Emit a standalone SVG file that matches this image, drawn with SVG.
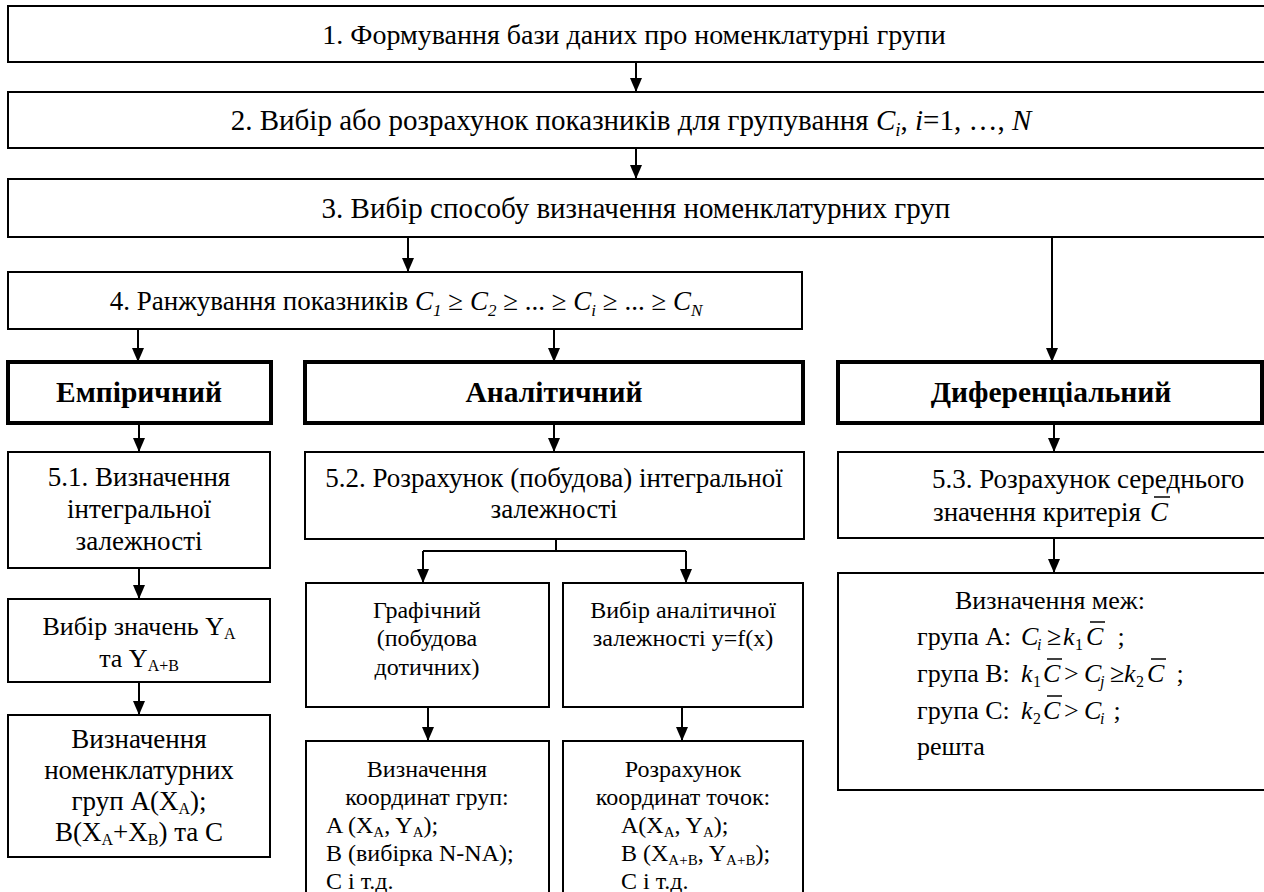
<svg xmlns="http://www.w3.org/2000/svg" width="1264" height="892" viewBox="0 0 1264 892">
<defs>
<style>
.box{fill:#fff;stroke:#000;stroke-width:2}
.bbox{fill:#fff;stroke:#000;stroke-width:4}
text{font-family:"Liberation Serif","Times New Roman",serif;fill:#000}
.f29{font-size:29px}
.f28{font-size:28px}
.f27{font-size:27px}
.f26{font-size:26px}
.f24{font-size:24px}
.b{font-weight:bold;font-size:29.5px}
.it{font-style:italic}
.c{text-anchor:middle}
#connectors line,#connectors path{stroke:#000;stroke-width:2;fill:none}
.ar{marker-end:url(#ah)}
.ov{stroke:#000;stroke-width:1.5}
</style>
<marker id="ah" viewBox="0 0 14 12" refX="14" refY="6" markerWidth="14" markerHeight="12" markerUnits="userSpaceOnUse" orient="auto"><path d="M0,0 L14,6 L0,12 z" fill="#000"/></marker>
</defs>
<rect width="1264" height="892" fill="#fff"/>

<g id="connectors">
<line class="ar" x1="636" y1="62" x2="636" y2="92"/>
<line class="ar" x1="636" y1="148" x2="636" y2="179"/>
<line class="ar" x1="408" y1="237" x2="408" y2="272"/>
<line class="ar" x1="1052" y1="237" x2="1052" y2="362"/>
<line class="ar" x1="138" y1="329" x2="138" y2="362"/>
<line class="ar" x1="554" y1="329" x2="554" y2="362"/>
<line class="ar" x1="139" y1="423" x2="139" y2="452"/>
<line class="ar" x1="554" y1="424" x2="554" y2="452"/>
<line class="ar" x1="1054" y1="423" x2="1054" y2="452"/>
<line class="ar" x1="139" y1="568" x2="139" y2="599"/>
<line class="ar" x1="139" y1="682" x2="139" y2="715"/>
<path d="M556,539 V551 M423,551 H686"/>
<line class="ar" x1="423" y1="551" x2="423" y2="583"/>
<line class="ar" x1="686" y1="551" x2="686" y2="583"/>
<line class="ar" x1="1054" y1="538" x2="1054" y2="573"/>
<line class="ar" x1="428" y1="707" x2="428" y2="741"/>
<line class="ar" x1="682" y1="707" x2="682" y2="741"/>
</g>

<g id="n1">
<rect class="box" x="8" y="6" width="1270" height="56"/>
<text class="f28 c" x="634" y="44">1. Формування бази даних про номенклатурні групи</text>
</g>
<g id="n2">
<rect class="box" x="8" y="92" width="1270" height="56"/>
<text class="f29 c" x="631" y="130">2. Вибір або розрахунок показників для групування <tspan class="it">C</tspan><tspan class="it" font-size="19" dy="6">i</tspan><tspan dy="-6">, </tspan><tspan class="it">i</tspan>=1, …, <tspan class="it">N</tspan></text>
</g>
<g id="n3">
<rect class="box" x="8" y="179" width="1270" height="58"/>
<text class="f29 c" x="636" y="218">3. Вибір способу визначення номенклатурних груп</text>
</g>
<g id="n4">
<rect class="box" x="8" y="272" width="794" height="57"/>
<text class="f27 c" x="406" y="310">4. Ранжування показників <tspan class="it">C</tspan><tspan class="it" font-size="17" dy="6">1</tspan><tspan dy="-6"> ≥ </tspan><tspan class="it">C</tspan><tspan class="it" font-size="17" dy="6">2</tspan><tspan dy="-6"> ≥ ... ≥ </tspan><tspan class="it">C</tspan><tspan class="it" font-size="17" dy="6">i</tspan><tspan dy="-6"> ≥ ... ≥ </tspan><tspan class="it">C</tspan><tspan class="it" font-size="17" dy="6">N</tspan></text>
</g>

<g id="emp">
<rect class="bbox" x="8" y="362" width="263" height="61"/>
<text class="b c" x="139" y="402">Емпіричний</text>
</g>
<g id="anal">
<rect class="bbox" x="305" y="362" width="498" height="61"/>
<text class="b c" x="554" y="402">Аналітичний</text>
</g>
<g id="dif">
<rect class="bbox" x="838" y="362" width="424" height="61"/>
<text class="b c" x="1051" y="402">Диференціальний</text>
</g>

<g id="n51">
<rect class="box" x="8" y="452" width="262" height="116"/>
<text class="f27 c" x="139" y="486">5.1. Визначення</text>
<text class="f27 c" x="139" y="518">інтегральної</text>
<text class="f27 c" x="139" y="550">залежності</text>
</g>
<g id="ny">
<rect class="box" x="8" y="599" width="262" height="83"/>
<text class="f26 c" x="139" y="635">Вибір значень Y<tspan font-size="16" dy="4">A</tspan></text>
<text class="f26 c" x="139" y="667">та Y<tspan font-size="16" dy="4">A+B</tspan></text>
</g>
<g id="nnom">
<rect class="box" x="8" y="715" width="262" height="142"/>
<text class="f27 c" x="139" y="748">Визначення</text>
<text class="f27 c" x="139" y="779">номенклатурних</text>
<text class="f27 c" x="139" y="810">груп A(X<tspan font-size="16" dy="4">A</tspan><tspan dy="-4">);</tspan></text>
<text class="f27 c" x="139" y="841">B(X<tspan font-size="16" dy="4">A</tspan><tspan dy="-4">+X</tspan><tspan font-size="16" dy="4">B</tspan><tspan dy="-4">) та C</tspan></text>
</g>

<g id="n52">
<rect class="box" x="305" y="452" width="499" height="87"/>
<text class="f27 c" x="554" y="487">5.2. Розрахунок (побудова) інтегральної</text>
<text class="f27 c" x="554" y="518">залежності</text>
</g>
<g id="ngraf">
<rect class="box" x="306" y="583" width="243" height="124"/>
<text class="f24 c" x="427" y="618">Графічний</text>
<text class="f24 c" x="427" y="646">(побудова</text>
<text class="f24 c" x="427" y="675">дотичних)</text>
</g>
<g id="nvyb">
<rect class="box" x="563" y="583" width="240" height="124"/>
<text class="f24 c" x="683" y="618">Вибір аналітичної</text>
<text class="f24 c" x="683" y="646">залежності y=f(x)</text>
</g>
<g id="nkoord">
<rect class="box" x="306" y="741" width="243" height="170"/>
<text class="f24 c" x="427" y="777">Визначення</text>
<text class="f24 c" x="427" y="805">координат груп:</text>
<text class="f24" x="326" y="833">A (X<tspan font-size="15" dy="4">A</tspan><tspan dy="-4">, Y</tspan><tspan font-size="15" dy="4">A</tspan><tspan dy="-4">);</tspan></text>
<text class="f24" x="326" y="861">B (вибірка N-NA);</text>
<text class="f24" x="326" y="889">C і т.д.</text>
</g>
<g id="ntoch">
<rect class="box" x="563" y="741" width="240" height="170"/>
<text class="f24 c" x="683" y="777">Розрахунок</text>
<text class="f24 c" x="683" y="805">координат точок:</text>
<text class="f24" x="621" y="833">A(X<tspan font-size="15" dy="4">A</tspan><tspan dy="-4">, Y</tspan><tspan font-size="15" dy="4">A</tspan><tspan dy="-4">);</tspan></text>
<text class="f24" x="621" y="861">B (X<tspan font-size="15" dy="4">A+B</tspan><tspan dy="-4">, Y</tspan><tspan font-size="15" dy="4">A+B</tspan><tspan dy="-4">);</tspan></text>
<text class="f24" x="621" y="889">C і т.д.</text>
</g>

<g id="n53">
<rect class="box" x="838" y="452" width="440" height="86"/>
<text class="f27" x="932" y="488">5.3. Розрахунок середнього</text>
<text class="f27" x="933" y="521">значення критерія</text>
<text class="f27 it" x="1150" y="521">C</text>
<line class="ov" x1="1154" y1="497" x2="1170" y2="497"/>
</g>
<g id="nmezh">
<rect class="box" x="838" y="573" width="440" height="217"/>
<text class="f26" x="955" y="609">Визначення меж:</text>
<text class="f26" x="917" y="645">група A:<tspan class="it" x="1021">C</tspan><tspan class="it" font-size="16" x="1037" dy="5">i</tspan><tspan x="1047" dy="-5">≥</tspan><tspan class="it" x="1063">k</tspan><tspan font-size="16" x="1075" dy="5">1</tspan><tspan class="it" x="1086" dy="-5">C</tspan><tspan x="1111"> ;</tspan></text>
<line class="ov" x1="1090" y1="622" x2="1105" y2="622"/>
<text class="f26" x="917" y="682">група B:<tspan class="it" x="1021">k</tspan><tspan font-size="16" x="1033" dy="5">1</tspan><tspan class="it" x="1043" dy="-5">C</tspan><tspan x="1064">&gt;</tspan><tspan class="it" x="1084">C</tspan><tspan class="it" font-size="16" x="1100" dy="5">j</tspan><tspan x="1110" dy="-5">≥</tspan><tspan class="it" x="1124">k</tspan><tspan font-size="16" x="1136" dy="5">2</tspan><tspan class="it" x="1147" dy="-5">C</tspan><tspan x="1170"> ;</tspan></text>
<line class="ov" x1="1047" y1="659" x2="1062" y2="659"/>
<line class="ov" x1="1151" y1="659" x2="1166" y2="659"/>
<text class="f26" x="917" y="719">група C:<tspan class="it" x="1021">k</tspan><tspan font-size="16" x="1033" dy="5">2</tspan><tspan class="it" x="1043" dy="-5">C</tspan><tspan x="1064">&gt;</tspan><tspan class="it" x="1084">C</tspan><tspan class="it" font-size="16" x="1100" dy="5">i</tspan><tspan x="1107" dy="-5"> ;</tspan></text>
<line class="ov" x1="1047" y1="696" x2="1062" y2="696"/>
<text class="f26" x="917" y="755">решта</text>
</g>
</svg>
